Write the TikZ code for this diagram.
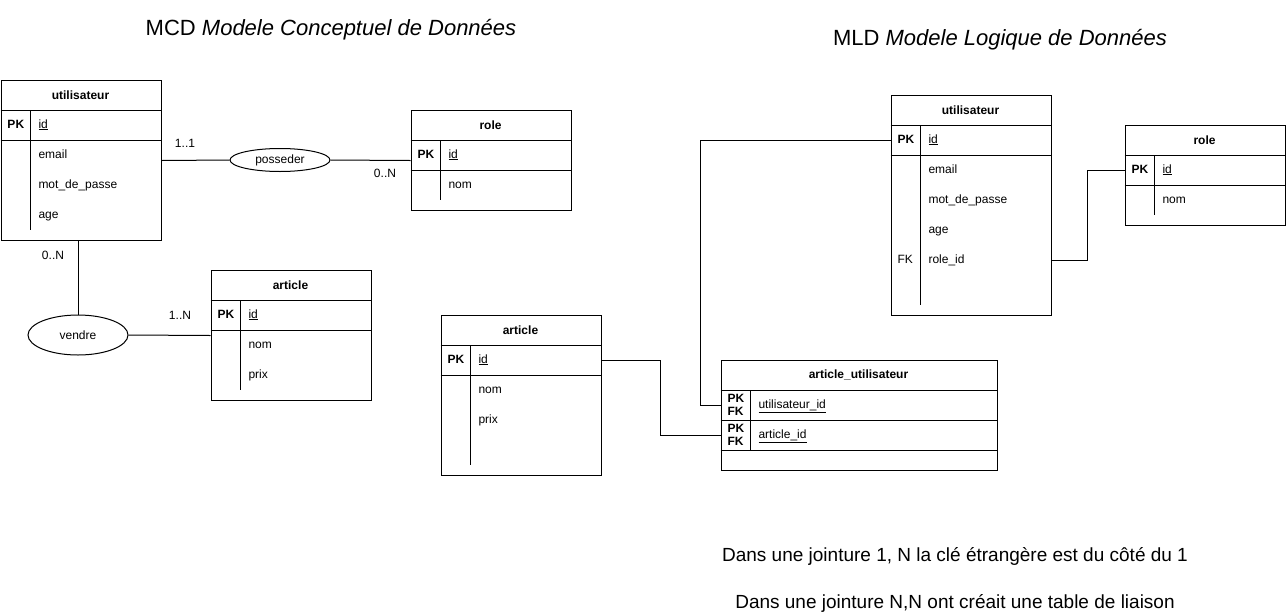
\documentclass[tikz,border=0pt]{standalone}
\usepackage{fontspec}
\setmainfont{Liberation Sans}
\usetikzlibrary{shapes.geometric, positioning, calc}

\tikzset{
  tbl/.style={draw, rectangle, anchor=north west, minimum width=160pt, inner sep=0pt},
  hdr/.style={font=\fontsize{12}{14}\selectfont\bfseries},
  fld/.style={anchor=west, inner sep=0pt, text height=9pt, text depth=3pt, font=\fontsize{12}{14}\selectfont},
  pk/.style={fld, font=\fontsize{12}{14}\selectfont\bfseries},
  keys/.style={anchor=west, inner sep=0pt, align=left, font=\fontsize{12}{12.5}\selectfont\bfseries},
  card/.style={inner sep=0pt, font=\fontsize{12}{14}\selectfont},
  rel/.style={draw, ellipse, minimum width=100pt, inner sep=0pt, font=\fontsize{12}{14}\selectfont},
  note/.style={inner sep=0pt, font=\fontsize{19}{22}\selectfont}
}

\begin{document}
\begin{tikzpicture}[x=1pt, y=-1pt, line width=1pt]
\useasboundingbox (0,0) rectangle (1286,614);

\node[font=\fontsize{22}{26}\selectfont] (mcd) at (331,30) {MCD \textit{Modele Conceptuel de Données}};
\node[font=\fontsize{22}{26}\selectfont] (mld) at (1000,40) {MLD \textit{Modele Logique de Données}};

% MCD
\node[tbl, minimum height=160pt] (u1) at (0.5,80) {};
\draw (0.5,110) -- (160.5,110) (0.5,140) -- (160.5,140) (30.5,110) -- (30.5,230);
\node[hdr] (u1t) at (80.5,95) {utilisateur};
\node[pk] (u1pk) at (7,125) {PK};
\node[fld] (u1id) at (38,125) {\underline{id}};
\node[fld] (u1c1) at (38,155) {email};
\node[fld] (u1c2) at (38,185) {mot\_de\_passe};
\node[fld] (u1c3) at (38,215) {age};

\node[tbl, minimum height=100pt] (r1) at (410.5,110) {};
\draw (410.5,140) -- (570.5,140) (410.5,170) -- (570.5,170) (440.5,140) -- (440.5,200);
\node[hdr] (r1t) at (490.5,125) {role};
\node[pk] (r1pk) at (417,155) {PK};
\node[fld] (r1id) at (448,155) {\underline{id}};
\node[fld] (r1c1) at (448,185) {nom};

\node[tbl, minimum height=130pt] (a1) at (210.5,270) {};
\draw (210.5,300) -- (370.5,300) (210.5,330) -- (370.5,330) (240.5,300) -- (240.5,390);
\node[hdr] (a1t) at (290.5,285) {article};
\node[pk] (a1pk) at (217,315) {PK};
\node[fld] (a1id) at (248,315) {\underline{id}};
\node[fld] (a1c1) at (248,345) {nom};
\node[fld] (a1c2) at (248,375) {prix};

\node[rel, minimum height=23pt] (poss) at (280,160) {posseder};
\node[rel, minimum height=40pt] (vend) at (78,335) {vendre};
\draw (u1.east) -- (poss.west);
\draw (poss.east) -- (r1.west);
\draw (vend.north |- u1.south) -- (vend.north);
\draw (vend.east) -- (a1.west);

\node[card] (c11) at (185,143) {1..1};
\node[card] (c0n) at (385,173) {0..N};
\node[card] (c0n2) at (53,255) {0..N};
\node[card] (c1n) at (180,315) {1..N};

% MLD
\node[tbl, minimum height=220pt] (u2) at (890.5,95) {};
\draw (890.5,125) -- (1050.5,125) (890.5,155) -- (1050.5,155) (920.5,125) -- (920.5,305);
\node[hdr] (u2t) at (970.5,110) {utilisateur};
\node[pk] (u2pk) at (897,140) {PK};
\node[fld] (u2id) at (928,140) {\underline{id}};
\node[fld] (u2c1) at (928,170) {email};
\node[fld] (u2c2) at (928,200) {mot\_de\_passe};
\node[fld] (u2c3) at (928,230) {age};
\node[fld] (u2fk) at (897,260) {FK};
\node[fld] (u2rid) at (928,260) {role\_id};

\node[tbl, minimum height=100pt] (r2) at (1124.5,125) {};
\draw (1124.5,155) -- (1284.5,155) (1124.5,185) -- (1284.5,185) (1154.5,155) -- (1154.5,215);
\node[hdr] (r2t) at (1204.5,140) {role};
\node[pk] (r2pk) at (1131,170) {PK};
\node[fld] (r2id) at (1162,170) {\underline{id}};
\node[fld] (r2c1) at (1162,200) {nom};

\node[tbl, minimum height=160pt] (a2) at (440.5,315) {};
\draw (440.5,345) -- (600.5,345) (440.5,375) -- (600.5,375) (470.5,345) -- (470.5,465);
\node[hdr] (a2t) at (520.5,330) {article};
\node[pk] (a2pk) at (447,360) {PK};
\node[fld] (a2id) at (478,360) {\underline{id}};
\node[fld] (a2c1) at (478,390) {nom};
\node[fld] (a2c2) at (478,420) {prix};

\node[tbl, minimum width=276pt, minimum height=110pt] (au) at (720.5,360) {};
\draw (720.5,390) -- (996.5,390) (720.5,420) -- (996.5,420) (720.5,450) -- (996.5,450) (750.5,390) -- (750.5,450);
\node[hdr] (aut) at (858.5,375) {article\_utilisateur};
\node[keys] (aupk1) at (727,405) {PK\\FK};
\node[keys] (aupk2) at (727,435) {PK\\FK};
\node[fld] (auuid) at (758,405) {\underline{utilisateur\_id}};
\node[fld] (auaid) at (758,435) {\underline{article\_id}};

\coordinate (kA) at (700,405);
\coordinate (kB) at (660,360);
\coordinate (kC) at (1087,170);
\draw (u2.west |- u2id) -| (kA) -- (au.west |- auuid);
\draw (a2.east |- a2id) -- (kB) |- (au.west |- auaid);
\draw (u2.east |- u2rid) -| (kC) -- (r2.west |- r2id);

\node[note] (note1) at (955,556) {Dans une jointure 1, N la clé étrangère est du côté du 1};
\node[note] (note2) at (955,603) {Dans une jointure N,N ont créait une table de liaison};
\end{tikzpicture}
\end{document}
